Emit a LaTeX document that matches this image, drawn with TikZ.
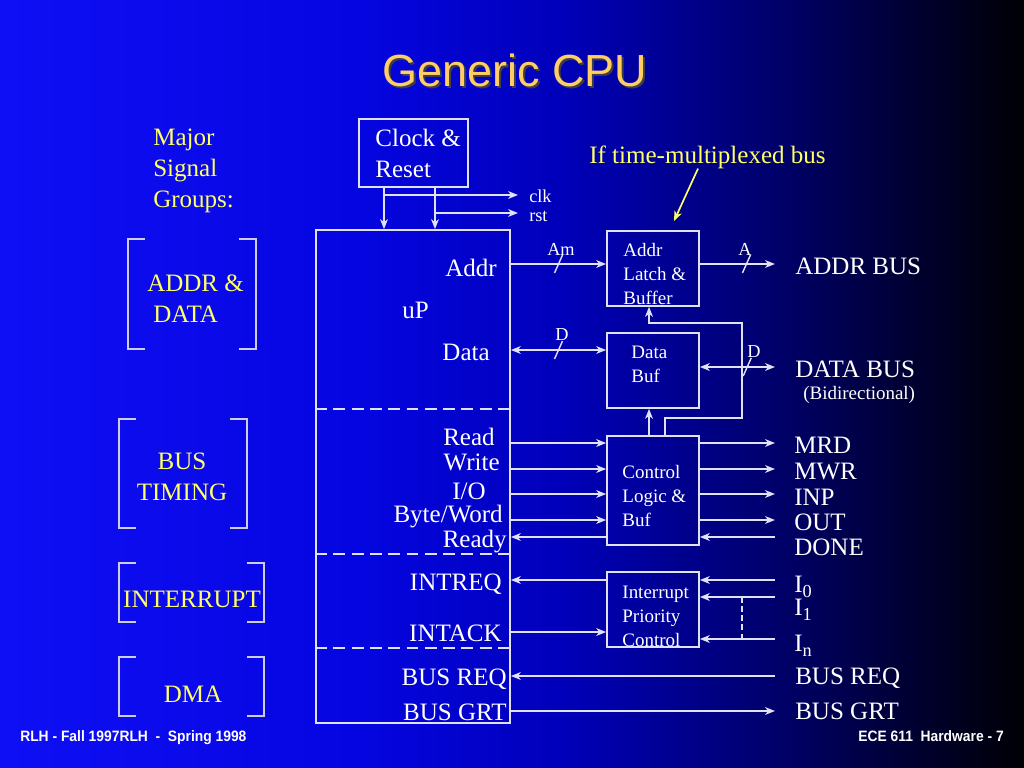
\documentclass[tikz,border=0pt]{standalone}
\usepackage{fontspec}
\setmainfont{Liberation Serif}
\newfontfamily\titlefont{Liberation Sans}
\newfontfamily\footfont[FakeStretch=0.92]{Liberation Sans}
\usetikzlibrary{arrows.meta,positioning,calc}

\definecolor{bgA}{RGB}{15,15,245}
\definecolor{bgB}{RGB}{5,5,225}
\definecolor{bgC}{RGB}{0,0,185}
\definecolor{bgD}{RGB}{0,0,110}
\definecolor{bgE}{RGB}{0,0,45}
\definecolor{bgF}{RGB}{0,0,5}
\definecolor{wire}{RGB}{225,225,245}
\definecolor{titleor}{RGB}{255,204,102}
\definecolor{note}{RGB}{255,255,102}
\definecolor{brk}{RGB}{205,205,220}

\pgfdeclarehorizontalshading{slidebg}{100bp}{color(0bp)=(bgA); color(25bp)=(bgA);
  color(42.5bp)=(bgB); color(52.5bp)=(bgC); color(62.5bp)=(bgD); color(70bp)=(bgE);
  color(75bp)=(bgF); color(100bp)=(bgF)}

\begin{document}
\begin{tikzpicture}[x=0.025cm, y=-0.025cm,
    >={Stealth[length=7pt,width=5.5pt,inset=2pt]},
    lbl/.style={font=\fontsize{17.8}{22}\selectfont, text=white, inner sep=0pt},
    grp/.style={lbl, text=note},
    lblsm/.style={font=\fontsize{13}{15}\selectfont, text=white, inner sep=0pt},
    blkt/.style={font=\fontsize{13.5}{17.1}\selectfont, text=white, inner sep=0pt,
      align=left, anchor=north west},
    blk/.style={draw=wire, line width=1.2pt, inner sep=0pt, minimum width=2.3cm,
      minimum height=1.875cm},
    sig/.style={draw=wire, line width=1.2pt},
    dsep/.style={draw=wire, line width=1.2pt, dash pattern=on 8.5pt off 4.5pt},
    brkt/.style={draw=brk, line width=1.2pt},
    foot/.style={font=\footfont\bfseries\fontsize{10.7}{12}\selectfont, text=white, inner sep=0pt},
    busw/.pic={\draw[-, wire, line width=1pt] (-4,9) -- (4,-9);}
  ]
  % background and title
  \shade[shading=slidebg] (0,0) rectangle (1024,768);
  \useasboundingbox (0,0) rectangle (1024,768);
  \node[font=\titlefont\fontsize{32}{36}\selectfont, text=black!75, anchor=base, inner sep=0pt]
    (titlesh) at (517,89) {Generic CPU};
  \node[font=\titlefont\fontsize{32}{36}\selectfont, text=titleor, anchor=base, inner sep=0pt]
    (title) at (515,87) {Generic CPU};

  % signal groups
  \node[grp, align=left, anchor=north west] (groups) at (153,129) {Major\\Signal\\Groups:};
  \draw[brkt] (145,239) -| (128,349) -- (145,349);
  \draw[brkt] (239,239) -| (256,349) -- (239,349);
  \node[grp, align=left, anchor=north west] (gaddr) at (147,275) {ADDR \&\\\hspace*{0.15cm}DATA};
  \draw[brkt] (136,419) -| (119,528) -- (136,528);
  \draw[brkt] (230,419) -| (247,528) -- (230,528);
  \node[grp, align=center, anchor=north] (gtim) at (182,453) {BUS\\TIMING};
  \draw[brkt] (136,563) -| (119,622) -- (136,622);
  \draw[brkt] (247,563) -| (264,622) -- (247,622);
  \node[grp, anchor=base] (gint) at (192,607) {INTERRUPT};
  \draw[brkt] (136,657) -| (119,716) -- (136,716);
  \draw[brkt] (247,657) -| (264,716) -- (247,716);
  \node[grp, anchor=base] (gdma) at (193,702) {DMA};

  % blocks
  \node[blk, minimum width=2.725cm, minimum height=1.7cm] (clk) at (413.5,153) {};
  \node[lbl, align=left, anchor=north west] (clkt) at ([shift={(17,11)}]clk.north west) {Clock \&\\Reset};
  \node[blk, minimum width=4.85cm, minimum height=12.325cm] (up) at (413,476.5) {};
  \node[blk] (latch) at (653,268.5) {};
  \node[blkt] (latcht) at ([shift={(17,13)}]latch.north west) {Addr\\Latch \&\\Buffer};
  \node[blk] (dbuf) at (653,370.5) {};
  \node[blkt] (dbuft) at ([shift={(25,14)}]dbuf.north west) {Data\\Buf};
  \node[blk, minimum height=2.725cm] (ctl) at (653,490.5) {};
  \node[blkt] (ctlt) at ([shift={(16,30)}]ctl.north west) {Control\\Logic \&\\Buf};
  \node[blk] (intr) at (653,609.5) {};
  \node[blkt] (intrt) at ([shift={(16,15)}]intr.north west) {Interrupt\\Priority\\Control};

  % uP side labels
  \node[lbl, anchor=base west] (upl) at (402,318) {uP};
  \node[lbl, anchor=base east] (addrl) at (497,276) {Addr};
  \node[lbl, anchor=base east] (datal) at (490,360) {Data};
  \node[lbl, anchor=base east] (readl) at (495,445) {Read};
  \node[lbl, anchor=base east] (writel) at (500,470) {Write};
  \node[lbl, anchor=base east] (iol) at (486,499) {I/O};
  \node[lbl, anchor=base east] (bwl) at (503,522) {Byte/Word};
  \node[lbl, anchor=base east] (readyl) at (507,547) {Ready};
  \node[lbl, anchor=base east] (irql) at (502,590) {INTREQ};
  \node[lbl, anchor=base east] (ackl) at (502,641) {INTACK};
  \node[lbl, anchor=base east] (breql) at (507,685) {BUS REQ};
  \node[lbl, anchor=base east] (bgrtl) at (507,720) {BUS GRT};
  \draw[dsep] (up.west |- 0,409) -- (up.east |- 0,409);
  \draw[dsep] (up.west |- 0,554) -- (up.east |- 0,554);
  \draw[dsep] (up.west |- 0,648) -- (up.east |- 0,648);

  % clock and reset
  \coordinate (clkb) at (384,195);
  \coordinate (rstb) at (435,213);
  \coordinate (clke) at (518,195);
  \coordinate (rste) at (518,213);
  \draw[sig,->] (clk.south -| clkb) -- (up.north -| clkb);
  \draw[sig,->] (clk.south -| rstb) -- (up.north -| rstb);
  \draw[sig,->] (clkb) -- (clke);
  \draw[sig,->] (rstb) -- (rste);
  \node[lblsm, anchor=base west] (clkl) at (529,202) {clk};
  \node[lblsm, anchor=base west] (rstl) at (529,221) {rst};

  % address and data buses
  \coordinate (abus) at (775,264);
  \coordinate (dint) at (558,350);
  \coordinate (dbus) at (775,367);
  \draw[sig,->] (up.east |- abus) -- (latch.west |- abus) pic[pos=.5]{busw};
  \draw[sig,->] (latch.east |- abus) -- (abus) pic[pos=.62]{busw};
  \draw[sig,<->] (up.east |- dint) -- (dbuf.west |- dint) pic[pos=.5]{busw};
  \draw[sig,<->] (dbuf.east |- dbus) -- (dbus) pic[pos=.63]{busw};
  \node[lblsm, anchor=base] (aml) at (561,255) {Am};
  \node[lblsm, anchor=base] (al) at (745,255) {A};
  \node[lblsm, anchor=base] (dl) at (562,340) {D};
  \node[lblsm, anchor=base] (drl) at (754,357) {D};
  \node[lbl, anchor=base west] (abusl) at (795,274) {ADDR BUS};
  \node[lbl, anchor=base west] (dbusl) at (795,377) {DATA BUS};
  \node[blkt, anchor=base west] (bidir) at (803,399) {(Bidirectional)};

  % control to buffers
  \coordinate (lpb) at (742,418);
  \coordinate (lpt) at (742,323);
  \draw[sig,->] ([xshift=-1mm]ctl.north) -- ([xshift=-1mm]dbuf.south);
  \draw[sig,->] ([xshift=3mm]ctl.north) |- (lpb) -- (lpt) -| ([xshift=-1mm]latch.south);

  % bus timing
  \coordinate (mrd) at (775,443);
  \coordinate (mwr) at (775,469);
  \coordinate (inp) at (775,494);
  \coordinate (out) at (775,520);
  \coordinate (done) at (775,537);
  \draw[sig,->] (up.east |- mrd) -- (ctl.west |- mrd);
  \draw[sig,->] (up.east |- mwr) -- (ctl.west |- mwr);
  \draw[sig,->] (up.east |- inp) -- (ctl.west |- inp);
  \draw[sig,->] (up.east |- out) -- (ctl.west |- out);
  \draw[sig,->] (ctl.west |- done) -- (up.east |- done);
  \draw[sig,->] (ctl.east |- mrd) -- (mrd);
  \draw[sig,->] (ctl.east |- mwr) -- (mwr);
  \draw[sig,->] (ctl.east |- inp) -- (inp);
  \draw[sig,->] (ctl.east |- out) -- (out);
  \draw[sig,->] (done) -- (ctl.east |- done);
  \node[lbl, anchor=base west] (mrdl) at (794,453) {MRD};
  \node[lbl, anchor=base west] (mwrl) at (794,479) {MWR};
  \node[lbl, anchor=base west] (inpl) at (794,505) {INP};
  \node[lbl, anchor=base west] (outl) at (794,530) {OUT};
  \node[lbl, anchor=base west] (donel) at (794,555) {DONE};

  % interrupts
  \coordinate (i0) at (775,580);
  \coordinate (i1) at (775,597);
  \coordinate (inn) at (775,639);
  \coordinate (iack) at (558,632);
  \draw[sig,->] (intr.west |- i0) -- (up.east |- i0);
  \draw[sig,->] (up.east |- iack) -- (intr.west |- iack);
  \draw[sig,->] (i0) -- (intr.east |- i0);
  \draw[sig,->] (i1) -- (intr.east |- i1);
  \draw[sig,->] (inn) -- (intr.east |- inn);
  \draw[sig, dash pattern=on 4pt off 2.5pt] (i1 -| lpt) -- (inn -| lpt);
  \node[lbl, anchor=base west] (i0l) at (794,592) {I\raisebox{-4pt}{\fontsize{13}{15}\selectfont 0}};
  \node[lbl, anchor=base west] (i1l) at (794,615) {I\raisebox{-4pt}{\fontsize{13}{15}\selectfont 1}};
  \node[lbl, anchor=base west] (innl) at (794,651) {I\raisebox{-4pt}{\fontsize{13}{15}\selectfont n}};

  % dma
  \coordinate (breq) at (775,676);
  \coordinate (bgrt) at (775,711);
  \draw[sig,->] (breq) -- (up.east |- breq);
  \draw[sig,->] (up.east |- bgrt) -- (bgrt);
  \node[lbl, anchor=base west] (breqr) at (795,684) {BUS REQ};
  \node[lbl, anchor=base west] (bgrtr) at (795,719) {BUS GRT};

  % note
  \node[grp, anchor=base west] (mux) at (589,163) {If time-multiplexed bus};
  \coordinate (muxtip) at (674,221);
  \draw[draw=note, line width=1.2pt, ->] (mux.south -| 698,0) -- (muxtip);

  % footer
  \node[foot, anchor=base west] (footl) at (20,741) {RLH - Fall 1997RLH\ \ -\ \ Spring 1998};
  \node[foot, anchor=base east] (footr) at (1004,741) {ECE 611\ \ Hardware - 7};
\end{tikzpicture}
\end{document}
